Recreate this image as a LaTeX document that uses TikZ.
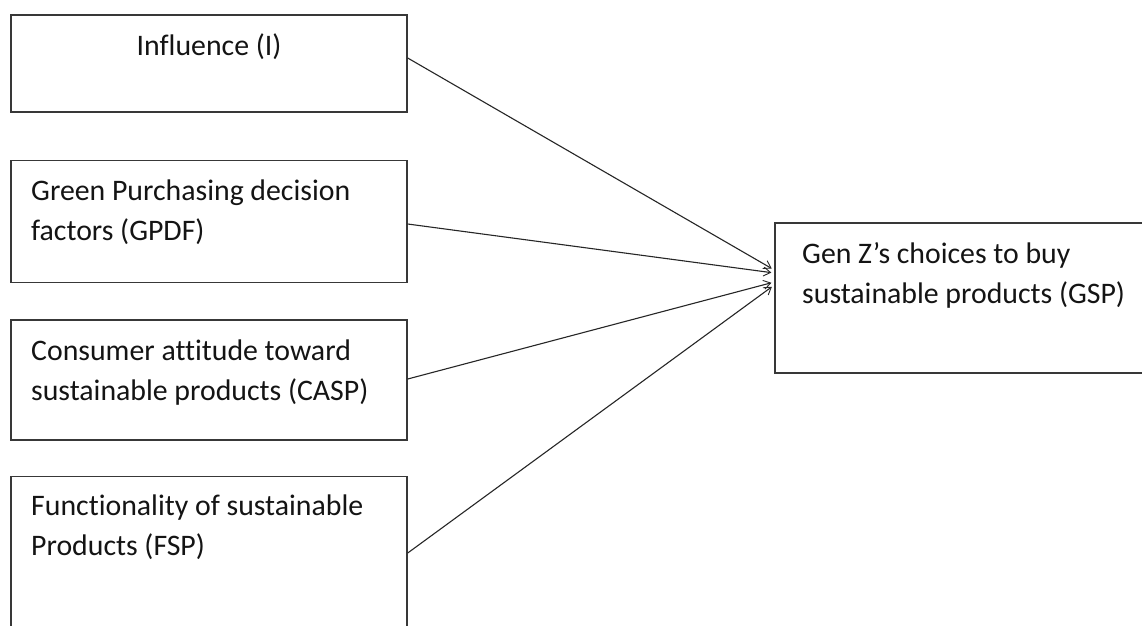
\documentclass[tikz,border=0pt]{standalone}
\usepackage{fontspec}
\newfontfamily\carl[Ligatures=NoCommon]{Carlito}
\usetikzlibrary{arrows.meta}
\newcommand\twolines[2]{\parbox[t]{380pt}{\raggedright #1\\#2}}
\begin{document}
\begin{tikzpicture}[x=1pt,y=-1pt,
  box/.style={draw=black!78, line width=1.4pt, rectangle, inner sep=0pt, fill=none},
  txt/.style={anchor=base west, inner sep=0pt, font={\carl\fontsize{29.8}{40}\selectfont}, text=black!92},
  arr/.style={draw=black!85, line width=1.1pt, -{Straight Barb[length=7pt,width=9pt,line width=0.9pt]}, shorten >=3pt}]
\useasboundingbox (0,0) rectangle (1142,625);
\clip (0,0) rectangle (1142,625);
\fill[white] (0,0) rectangle (1142,625);
% boxes
\node[box, minimum width=396pt, minimum height=97pt] (inf) at (209,63.5) {};
\node[box, minimum width=396pt, minimum height=122pt] (gpdf) at (209,221.5) {};
\node[box, minimum width=396pt, minimum height=120pt] (casp) at (209,380) {};
\node[box, minimum width=396pt, minimum height=223pt] (fsp) at (209,588) {};
\node[box, minimum width=426pt, minimum height=150pt] (gsp) at (988,298) {};
% texts
\node[txt, anchor=base] (tinf) at (209,55) {Influence (I)};
\node[txt] (tgpdf) at (31,200) {\twolines{Green Purchasing decision}{factors (GPDF)}};
\node[txt] (tcasp) at (31,360) {\twolines{Consumer attitude toward}{sustainable products (CASP)}};
\node[txt] (tfsp) at (31,515) {\twolines{Functionality of sustainable}{Products (FSP)}};
\node[txt] (tgsp) at (802,263) {\twolines{Gen Z’s choices to buy}{sustainable products (GSP)}};
% connectors
\draw[arr] ([yshift=5.5pt]inf.east) -- ([yshift=28pt]gsp.west);
\draw[arr] ([yshift=-2.5pt]gpdf.east) -- ([yshift=25pt]gsp.west);
\draw[arr] ([yshift=1pt]casp.east) -- ([yshift=16pt]gsp.west);
\draw[arr] ([yshift=35pt]fsp.east) -- ([yshift=13pt]gsp.west);
\end{tikzpicture}
\end{document}
